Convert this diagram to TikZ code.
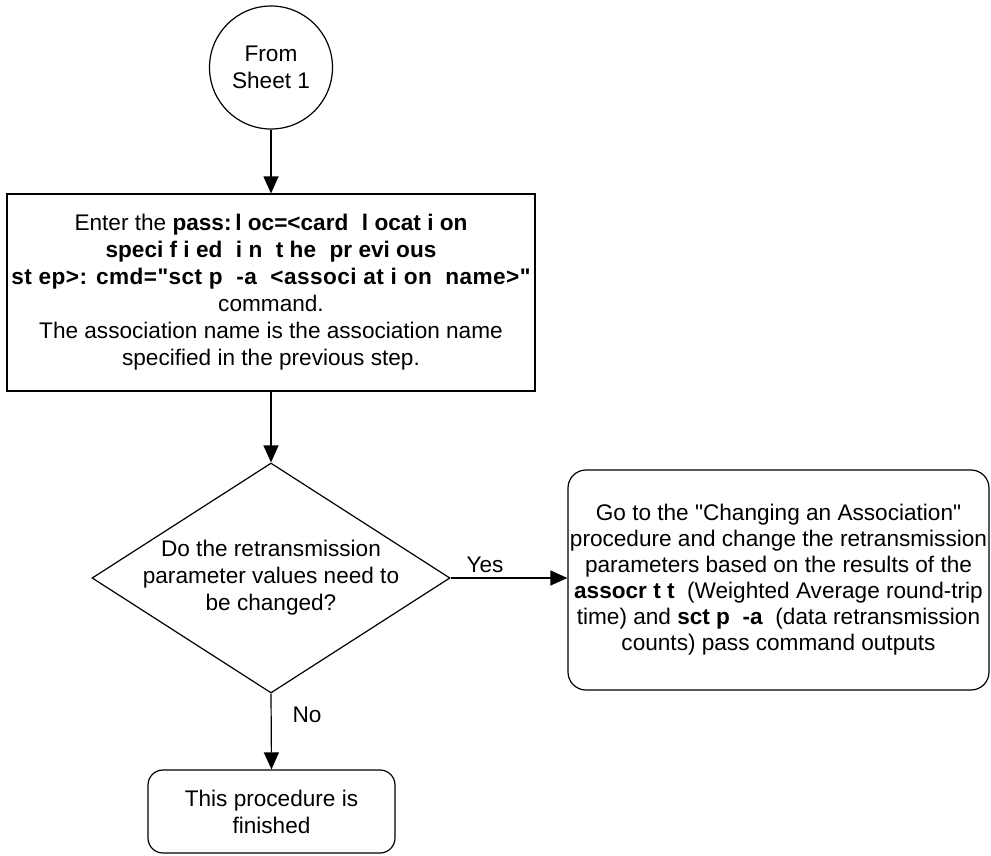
\documentclass[tikz,border=0pt]{standalone}
\usepackage{fontspec}
\setmainfont{Liberation Sans}[Ligatures=TeXOff]
\newfontfamily\widecmd{Liberation Sans}[Ligatures=TeXOff,LetterSpace=2]
\usetikzlibrary{positioning,arrows.meta,shapes.geometric}

\newcommand{\wsp}{\hspace*{0.6em}}

\begin{document}
\begin{tikzpicture}[
    x=1pt, y=-1pt,
    txt/.style={
        font=\fontsize{22.6}{27}\selectfont,
        align=center
    },
    conn/.style={
        txt,
        circle,
        draw,
        line width=1.2pt,
        minimum size=123pt,
        inner sep=0pt
    },
    proc/.style={
        txt,
        draw,
        line width=1.2pt,
        minimum width=528pt,
        minimum height=197pt,
        inner sep=0pt
    },
    decision/.style={
        diamond,
        draw,
        line width=1.2pt,
        minimum width=358pt,
        minimum height=230pt,
        inner sep=0pt
    },
    term/.style={
        txt,
        draw,
        line width=1.2pt,
        rounded corners=18pt,
        inner sep=0pt
    },
    arr/.style={
        -{Triangle[length=17pt,width=15pt]},
        line width=1.2pt
    }
]

\useasboundingbox (0,0) rectangle (991,855);

% ============================================================
% LEFT COLUMN — TOP TO BOTTOM
% ============================================================

\node[conn] (start) at (271,67.5)
{From\\Sheet 1};

\node[proc] (enter) at (271,292.5)
{Enter the \textbf{pass:\,l oc=<card\wsp l ocat i on}\\
\textbf{speci f i ed\wsp i n\wsp t he\wsp pr evi ous}\\
{\widecmd\bfseries st ep>: cmd="sct p\hspace*{0.6em}-a\hspace*{0.6em}<associ at i on\hspace*{0.6em}name>"}\\
command.\\
The association name is the association name\\
specified in the previous step.};

\node[decision] (decide) at (271,578) {};
\node[txt] (decidetext) at (decide.center)
{Do the retransmission\\parameter values need to\\be changed?};

\node[term, minimum width=247pt, minimum height=83pt, rounded corners=15pt] (done) at (271.5,811.5)
{This procedure is\\finished};

\draw[arr] (start.south) -- (enter.north);
\draw[arr] (enter.south) -- (decide.north);
\draw[arr] (decide.south) -- (done.north);

\node[txt] (nolabel) at (307,715) {No};

% ============================================================
% YES BRANCH
% ============================================================

\node[term, minimum width=421pt, minimum height=220pt, font=\fontsize{22.6}{26}\selectfont] (change) at (778.5,580)
{Go to the "Changing an Association"\\
procedure and change the retransmission\\
parameters based on the results of the\\
\textbf{assocr t t} \ (Weighted Average round-trip\\
time) and \textbf{sct p \ -a} \ (data retransmission\\
counts) pass command outputs};

\draw[arr] (decide.east) -- (decide.east -| change.west);

\node[txt] (yeslabel) at (485,565) {Yes};

\end{tikzpicture}
\end{document}
